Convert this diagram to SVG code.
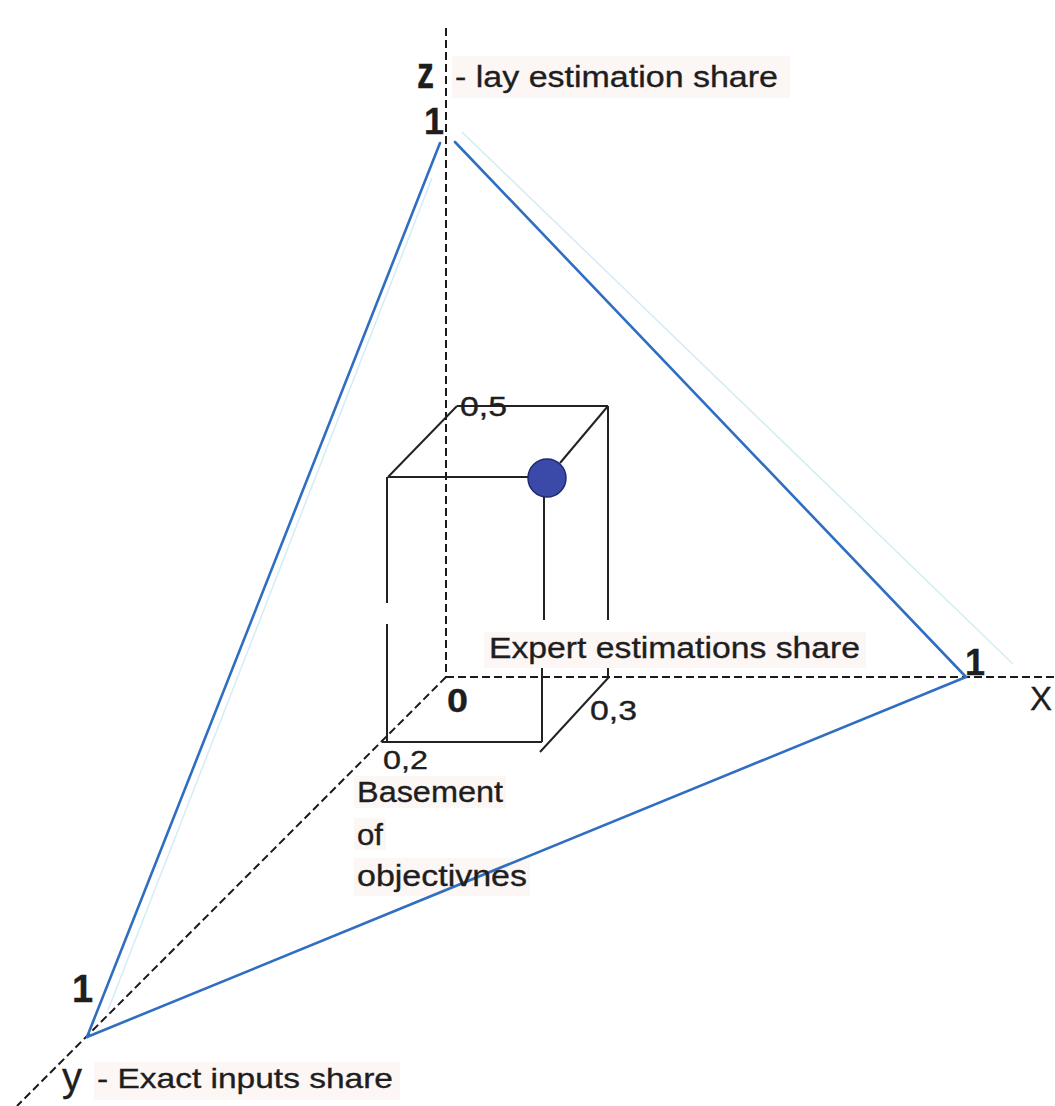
<svg xmlns="http://www.w3.org/2000/svg" width="1055" height="1106" viewBox="0 0 1055 1106">
<style>
.t{font-family:"Liberation Sans",Arial,sans-serif;fill:#1e1e1e;stroke:#1e1e1e;stroke-width:0.35}
.b{font-weight:bold}
.ax{stroke:#1a1a1a;stroke-width:2;stroke-dasharray:8 4;fill:none}
.tri{stroke:#2f6ec0;stroke-width:2.6;fill:none;stroke-linecap:round}
.ghost{stroke:#d4ecf6;stroke-width:1.5;fill:none}
.cube{stroke:#222;stroke-width:2;fill:none}
.bg{fill:#f8ece9;opacity:0.45}
</style>
<rect width="1055" height="1106" fill="#fff"/>
<g id="label-backgrounds">
<rect class="bg" x="452" y="56" width="338" height="42"/>
<rect class="bg" x="484" y="632" width="382" height="36"/>
<rect class="bg" x="94" y="1062" width="306" height="38"/>
<rect class="bg" x="354" y="776" width="152" height="32"/>
<rect class="bg" x="354" y="818" width="32" height="32"/>
<rect class="bg" x="354" y="858" width="176" height="38"/>
</g>
<g id="ghost-lines">
<line class="ghost" x1="462" y1="132" x2="1013" y2="664"/>
<line class="ghost" x1="432" y1="178" x2="108" y2="1010"/>
</g>
<g id="connectors">
<g id="axes">
<line class="ax" x1="446" y1="28" x2="446" y2="677"/>
<line class="ax" x1="446" y1="677" x2="1055" y2="677"/>
<line class="ax" x1="446" y1="677" x2="17" y2="1106"/>
</g>
<g id="triangle">
<line class="tri" x1="87" y1="1037" x2="440" y2="143"/>
<line class="tri" x1="455" y1="142" x2="966" y2="677"/>
<line class="tri" x1="87" y1="1037" x2="966" y2="677"/>
</g>
<g id="cube">
<line class="cube" x1="457" y1="406" x2="608" y2="406"/>
<line class="cube" x1="388" y1="477" x2="457" y2="406"/>
<line class="cube" x1="560" y1="463" x2="608" y2="406"/>
<line class="cube" x1="388" y1="477" x2="530" y2="477"/>
<line class="cube" x1="608" y1="406" x2="608" y2="620"/>
<line class="cube" x1="608" y1="668" x2="608" y2="677"/>
<line class="cube" x1="387" y1="477" x2="387" y2="603"/>
<line class="cube" x1="387" y1="624" x2="387" y2="742"/>
<line class="cube" x1="544" y1="497" x2="544" y2="620"/>
<line class="cube" x1="542" y1="668" x2="542" y2="742"/>
<line class="cube" x1="382" y1="742" x2="542" y2="742"/>
<line class="cube" x1="540" y1="752" x2="609" y2="677"/>
</g>
</g>
<g id="point">
<circle cx="547" cy="478" r="19" fill="#3b49a8" stroke="#1f2a70" stroke-width="1.5"/>
</g>
<g id="z-label">
<text class="t b" x="417" y="88" font-size="44" textLength="17" lengthAdjust="spacingAndGlyphs">z</text>
<text class="t" x="455" y="87" font-size="30" textLength="323" lengthAdjust="spacingAndGlyphs">- lay estimation share</text>
<text class="t b" x="424" y="134" font-size="36">1</text>
</g>
<g id="x-label">
<text class="t" x="489" y="658" font-size="29" textLength="371" lengthAdjust="spacingAndGlyphs">Expert estimations share</text>
<text class="t b" x="965" y="675" font-size="36">1</text>
<text class="t" x="1030" y="710" font-size="34" textLength="22" lengthAdjust="spacingAndGlyphs">X</text>
</g>
<g id="y-label">
<text class="t b" x="72" y="1002" font-size="38">1</text>
<text class="t" x="62" y="1091" font-size="40">y</text>
<text class="t" x="97" y="1088" font-size="28" textLength="296" lengthAdjust="spacingAndGlyphs">- Exact inputs share</text>
</g>
<g id="origin">
<text class="t b" x="447" y="712" font-size="33" textLength="21" lengthAdjust="spacingAndGlyphs">0</text>
</g>
<g id="ticks">
<text class="t" x="460" y="416" font-size="27" textLength="47" lengthAdjust="spacingAndGlyphs">0,5</text>
<text class="t" x="590" y="720" font-size="27" textLength="47" lengthAdjust="spacingAndGlyphs">0,3</text>
<text class="t" x="383" y="769" font-size="25" textLength="45" lengthAdjust="spacingAndGlyphs">0,2</text>
</g>
<g id="basement-label">
<text class="t" x="357" y="802" font-size="29" textLength="146" lengthAdjust="spacingAndGlyphs">Basement</text>
<text class="t" x="357" y="845" font-size="29" textLength="26" lengthAdjust="spacingAndGlyphs">of</text>
<text class="t" x="357" y="886" font-size="29" textLength="170" lengthAdjust="spacingAndGlyphs">objectivnes</text>
</g>
</svg>
